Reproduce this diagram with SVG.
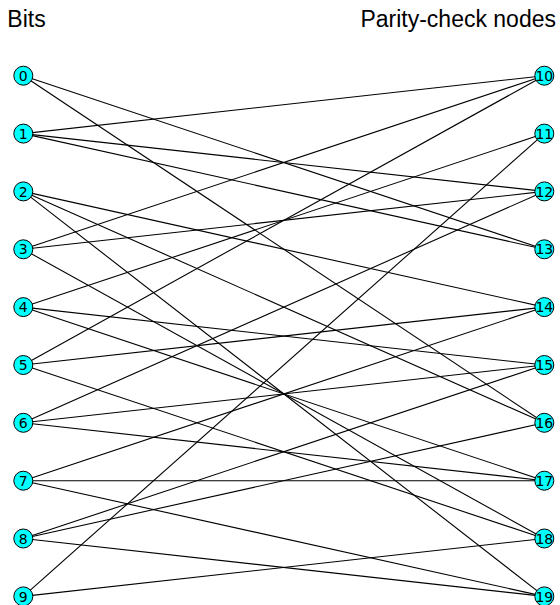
<svg xmlns="http://www.w3.org/2000/svg" width="560" height="605" viewBox="0 0 560 605">
<style>
.t{font-family:"Liberation Sans",Arial,sans-serif;font-size:23px;fill:#000}
.n circle{fill:#00ffff;stroke:#000;stroke-width:1}
.n text{font-family:"DejaVu Sans",sans-serif;font-size:14px;text-anchor:middle;fill:#000}
#edges line{stroke:#000;stroke-width:1.1}
</style>
<rect width="560" height="605" fill="#fff"/>
<text class="t" x="7.3" y="27">Bits</text>
<text class="t" x="556" y="27" text-anchor="end">Parity-check nodes</text>
<g id="edges">
<line x1="23.3" y1="75.7" x2="544.3" y2="249.3"/>
<line x1="23.3" y1="75.7" x2="544.3" y2="422.8"/>
<line x1="23.3" y1="133.6" x2="544.3" y2="75.7"/>
<line x1="23.3" y1="133.6" x2="544.3" y2="191.4"/>
<line x1="23.3" y1="133.6" x2="544.3" y2="249.3"/>
<line x1="23.3" y1="191.4" x2="544.3" y2="307.1"/>
<line x1="23.3" y1="191.4" x2="544.3" y2="422.8"/>
<line x1="23.3" y1="191.4" x2="544.3" y2="596.4"/>
<line x1="23.3" y1="249.3" x2="544.3" y2="75.7"/>
<line x1="23.3" y1="249.3" x2="544.3" y2="191.4"/>
<line x1="23.3" y1="249.3" x2="544.3" y2="538.5"/>
<line x1="23.3" y1="307.1" x2="544.3" y2="133.6"/>
<line x1="23.3" y1="307.1" x2="544.3" y2="365"/>
<line x1="23.3" y1="307.1" x2="544.3" y2="480.7"/>
<line x1="23.3" y1="365" x2="544.3" y2="75.7"/>
<line x1="23.3" y1="365" x2="544.3" y2="307.1"/>
<line x1="23.3" y1="365" x2="544.3" y2="538.5"/>
<line x1="23.3" y1="422.8" x2="544.3" y2="191.4"/>
<line x1="23.3" y1="422.8" x2="544.3" y2="365"/>
<line x1="23.3" y1="422.8" x2="544.3" y2="480.7"/>
<line x1="23.3" y1="480.7" x2="544.3" y2="307.1"/>
<line x1="23.3" y1="480.7" x2="544.3" y2="480.7"/>
<line x1="23.3" y1="480.7" x2="544.3" y2="596.4"/>
<line x1="23.3" y1="538.5" x2="544.3" y2="365"/>
<line x1="23.3" y1="538.5" x2="544.3" y2="422.8"/>
<line x1="23.3" y1="538.5" x2="544.3" y2="596.4"/>
<line x1="23.3" y1="596.4" x2="544.3" y2="133.6"/>
<line x1="23.3" y1="596.4" x2="544.3" y2="538.5"/>
</g>
<g id="n0" class="n"><circle cx="23.3" cy="75.7" r="9.5"/><text x="23.3" y="80.8">0</text></g>
<g id="n1" class="n"><circle cx="23.3" cy="133.6" r="9.5"/><text x="23.3" y="138.7">1</text></g>
<g id="n2" class="n"><circle cx="23.3" cy="191.4" r="9.5"/><text x="23.3" y="196.5">2</text></g>
<g id="n3" class="n"><circle cx="23.3" cy="249.3" r="9.5"/><text x="23.3" y="254.4">3</text></g>
<g id="n4" class="n"><circle cx="23.3" cy="307.1" r="9.5"/><text x="23.3" y="312.2">4</text></g>
<g id="n5" class="n"><circle cx="23.3" cy="365" r="9.5"/><text x="23.3" y="370.1">5</text></g>
<g id="n6" class="n"><circle cx="23.3" cy="422.8" r="9.5"/><text x="23.3" y="427.9">6</text></g>
<g id="n7" class="n"><circle cx="23.3" cy="480.7" r="9.5"/><text x="23.3" y="485.8">7</text></g>
<g id="n8" class="n"><circle cx="23.3" cy="538.5" r="9.5"/><text x="23.3" y="543.6">8</text></g>
<g id="n9" class="n"><circle cx="23.3" cy="596.4" r="9.5"/><text x="23.3" y="601.5">9</text></g>
<g id="n10" class="n"><circle cx="544.3" cy="75.7" r="9.5"/><text x="544.3" y="80.8">10</text></g>
<g id="n11" class="n"><circle cx="544.3" cy="133.6" r="9.5"/><text x="544.3" y="138.7">11</text></g>
<g id="n12" class="n"><circle cx="544.3" cy="191.4" r="9.5"/><text x="544.3" y="196.5">12</text></g>
<g id="n13" class="n"><circle cx="544.3" cy="249.3" r="9.5"/><text x="544.3" y="254.4">13</text></g>
<g id="n14" class="n"><circle cx="544.3" cy="307.1" r="9.5"/><text x="544.3" y="312.2">14</text></g>
<g id="n15" class="n"><circle cx="544.3" cy="365" r="9.5"/><text x="544.3" y="370.1">15</text></g>
<g id="n16" class="n"><circle cx="544.3" cy="422.8" r="9.5"/><text x="544.3" y="427.9">16</text></g>
<g id="n17" class="n"><circle cx="544.3" cy="480.7" r="9.5"/><text x="544.3" y="485.8">17</text></g>
<g id="n18" class="n"><circle cx="544.3" cy="538.5" r="9.5"/><text x="544.3" y="543.6">18</text></g>
<g id="n19" class="n"><circle cx="544.3" cy="596.4" r="9.5"/><text x="544.3" y="601.5">19</text></g>
</svg>
